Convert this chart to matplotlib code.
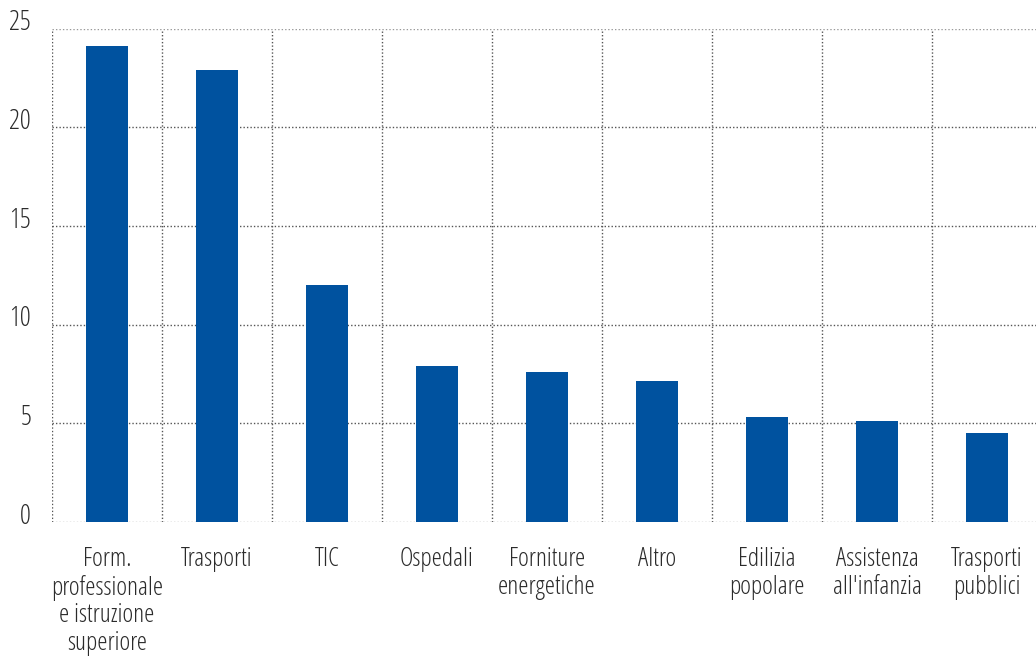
import matplotlib
matplotlib.use("Agg")
import matplotlib.pyplot as plt
from matplotlib.transforms import ScaledTranslation

categories = [
    "Form.\nprofessionale\ne istruzione\nsuperiore",
    "Trasporti",
    "TIC",
    "Ospedali",
    "Forniture\nenergetiche",
    "Altro",
    "Edilizia\npopolare",
    "Assistenza\nall'infanzia",
    "Trasporti\npubblici",
]
values = [24.1, 22.9, 12.0, 7.9, 7.6, 7.15, 5.3, 5.1, 4.5]
y_ticks = [0, 5, 10, 15, 20, 25]

plt.rcParams["font.family"] = ["Open Sans", "DejaVu Sans"]
plt.rcParams["font.stretch"] = "condensed"

W, H, DPI = 1036, 657, 100
fig = plt.figure(figsize=(W / DPI, H / DPI), dpi=DPI)
left, right, top, bottom = 52, 1042, 28.7, 522
ax = fig.add_axes([left / W, 1 - bottom / H, (right - left) / W, (bottom - top) / H])

n = len(categories)
ax.bar(range(n), values, width=0.38, color="#00529f", zorder=3)

ax.set_xlim(-0.5, n - 0.5)
ax.set_ylim(0, 25)

for s in ax.spines.values():
    s.set_visible(False)

grid_kw = dict(color="#555555", linestyle=(0, (1, 1.5)), linewidth=1.0, zorder=1)
for yv in y_ticks:
    c = "#999999" if yv in (0, 25) else "#555555"
    ax.axhline(yv, **{**grid_kw, "color": c})
for i in range(n):
    ax.axvline(i - 0.5, **grid_kw)

text_color = "#2b2b2b"
ax.set_yticks(y_ticks)
ax.set_yticklabels([str(v) for v in y_ticks], fontsize=19.5, color=text_color)
ax.tick_params(axis="y", length=0, pad=15)
shift = ScaledTranslation(0, 9 / DPI, fig.dpi_scale_trans)
for lbl in ax.get_yticklabels():
    lbl.set_transform(lbl.get_transform() + shift)

ax.set_xticks(range(n))
ax.set_xticklabels(categories, fontsize=18.5, color=text_color, linespacing=1.14)
ax.tick_params(axis="x", length=0, pad=18)

fig.savefig("out.png", dpi=DPI)
